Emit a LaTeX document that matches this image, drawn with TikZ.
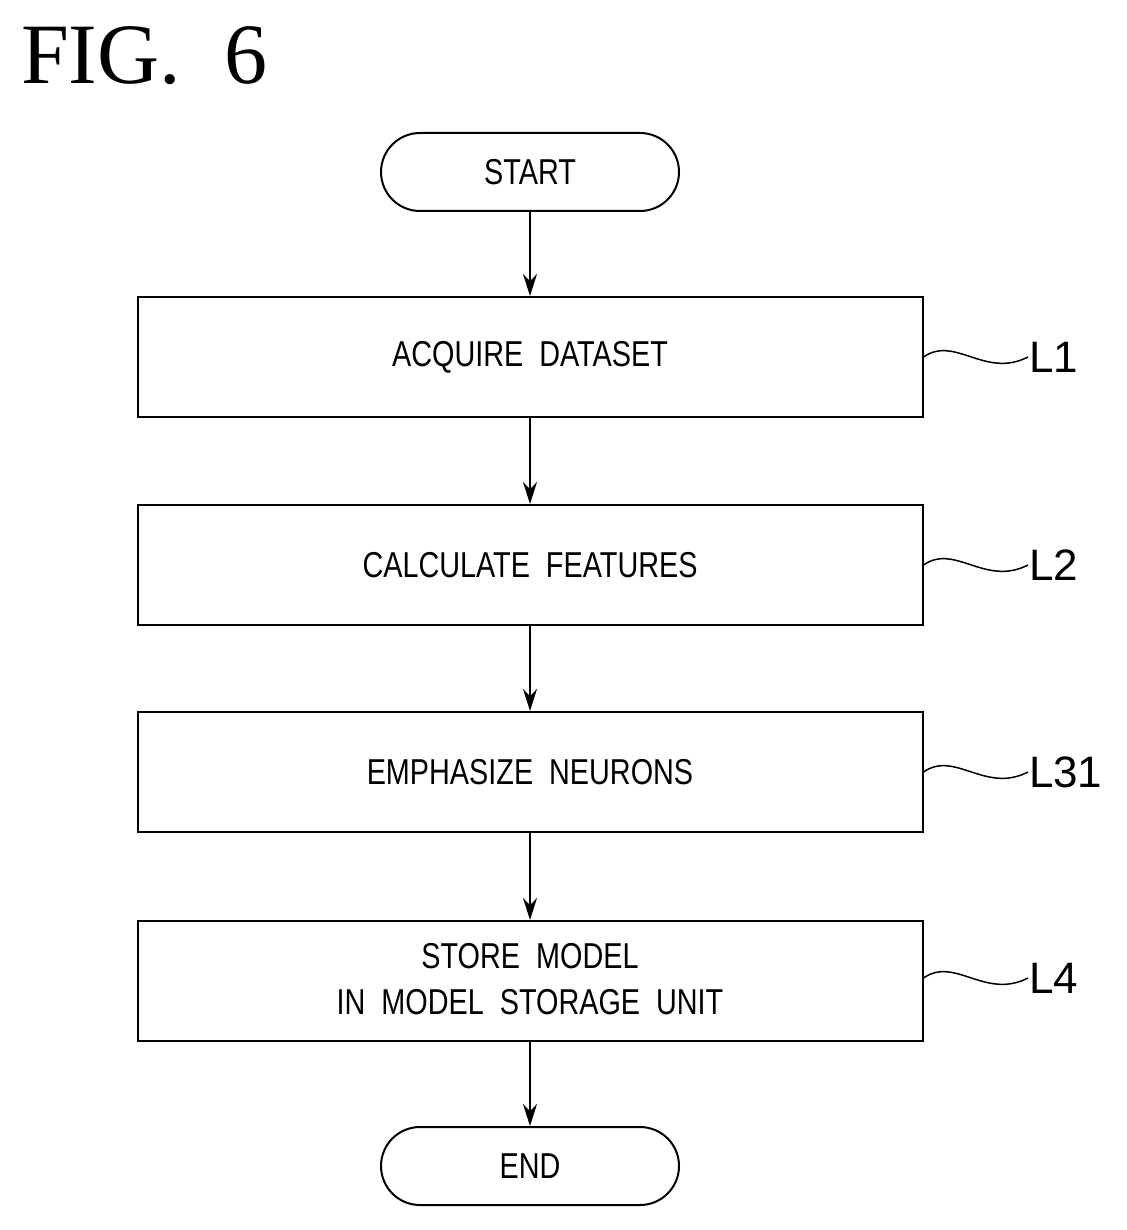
\documentclass[tikz,border=0pt]{standalone}
\usepackage{fontspec}
\setmainfont{Liberation Serif}
\setsansfont{Liberation Sans}
\usetikzlibrary{positioning,arrows.meta,shapes.misc}
\tikzset{every picture/.style={line width=2pt}}
\tikzset{
  procbox/.style={draw,minimum width=785pt,minimum height=120pt,inner sep=0pt,align=center,font=\sffamily\fontsize{36}{50}\selectfont},
  term/.style={draw,rounded rectangle,minimum width=298pt,minimum height=78pt,inner sep=0pt,font=\sffamily\fontsize{36}{40}\selectfont},
  flow/.style={-{Stealth[length=22pt,width=14pt]}},
  tag/.style={anchor=west,inner sep=0pt,font=\sffamily\fontsize{44}{44}\selectfont}
}
\begin{document}
\begin{tikzpicture}[x=1pt,y=1pt,yscale=-1,xscale=1]
        \useasboundingbox (0,0) rectangle (1126,1230);
        % Title
        \node [anchor=west,inner sep=0pt,font=\fontsize{86}{86}\selectfont] (fig) at (20,56) {FIG.\ \ 6};
        % Terminals and steps
        \node [term] (start) at (530,172) {\scalebox{0.8}[1]{START}};
        \node [procbox] (acquire) at (530,357) {\scalebox{0.8}[1]{ACQUIRE\ \ DATASET}};
        \node [procbox] (calc) at (530,565) {\scalebox{0.8}[1]{CALCULATE\ \ FEATURES}};
        \node [procbox] (emph) at (530,772) {\scalebox{0.8}[1]{EMPHASIZE\ \ NEURONS}};
        \node [procbox] (store) at (530,981) {\scalebox{0.8}[1]{\begin{tabular}{c}STORE\ \ MODEL\\[-4pt]IN\ \ MODEL\ \ STORAGE\ \ UNIT\end{tabular}}};
        \node [term] (end) at (530,1166) {\scalebox{0.8}[1]{END}};
        % Arrows
        \draw [flow] (start) -- (acquire);
        \draw [flow] (acquire) -- (calc);
        \draw [flow] (calc) -- (emph);
        \draw [flow] (emph) -- (store);
        \draw [flow] (store) -- (end);
        % Labels
        \foreach \stp/\lab/\yy in {acquire/L1/357,calc/L2/565,emph/L31/772,store/L4/978}{
          \node [tag] (\lab) at (1028,\yy) {\lab};
          \draw [line width=1.5pt] (\stp.east |- 0,\yy) .. controls (955,\yy-22) and (985,\yy+22) .. (\lab.west);
        }
\end{tikzpicture}
\end{document}
